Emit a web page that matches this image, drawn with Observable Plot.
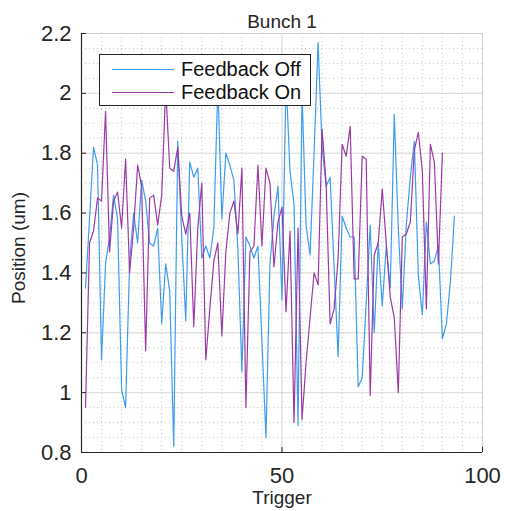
<!DOCTYPE html>
<html><head><meta charset="utf-8">
<script src="https://cdn.jsdelivr.net/npm/d3@7"></script>
<script src="https://cdn.jsdelivr.net/npm/@observablehq/plot@0.6"></script>
<style>
html,body{margin:0;padding:0;background:#fff;}
#chart{position:relative;width:505px;height:511px;font-family:"Liberation Sans",Arial,Helvetica,sans-serif;}
#legend{position:absolute;left:99px;top:54px;width:212px;height:52px;background:#fff;border:1px solid #262626;box-sizing:border-box;}
.sw{position:absolute;left:12px;width:62px;height:0;}
.lab{position:absolute;left:81px;font-size:20px;color:#111;line-height:22px;white-space:nowrap;}
</style></head><body>
<div id="chart"></div>
<script>
const title = "Bunch 1";
const xLabel = "Trigger";
const yLabel = "Position (um)";
const seriesNames = ["Feedback Off", "Feedback On"];
const seriesColors = ["#3d9cf2", "#9c3aa5"];
const xTicks = [0, 50, 100];
const yTicks = [0.8, 1, 1.2, 1.4, 1.6, 1.8, 2, 2.2];
const xMinorStep = 5;
const yMinorStep = 0.05;

const feedbackOff = [
  1.35, 1.58, 1.82, 1.76, 1.11, 1.43, 1.52, 1.66, 1.58, 1.01,
  0.95, 1.44, 1.60, 1.50, 1.71, 1.64, 1.50, 1.49, 1.55, 1.23,
  1.43, 1.34, 0.82, 1.84, 1.52, 1.24, 1.77, 1.72, 1.75, 1.45,
  1.49, 1.45, 1.55, 2.03, 1.58, 1.80, 1.76, 1.71, 1.48, 1.07,
  1.52, 1.49, 1.45, 1.49, 1.17, 0.85, 1.43, 1.59, 1.69, 1.31,
  2.05, 1.74, 1.63, 0.89, 2.00, 1.56, 1.46, 1.80, 2.17, 1.82,
  1.69, 1.72, 1.42, 1.12, 1.59, 1.55, 1.52, 1.52, 1.02, 1.05,
  1.30, 1.56, 1.20, 1.50, 1.29, 1.49, 1.35, 1.93, 1.55, 1.28,
  1.56, 1.72, 1.84, 1.39, 1.26, 1.57, 1.43, 1.44, 1.49, 1.18,
  1.23, 1.37, 1.59
];
const feedbackOn = [
  0.95, 1.50, 1.54, 1.65, 1.64, 1.94, 1.47, 1.64, 1.67, 1.55,
  1.78, 1.40, 1.55, 1.76, 1.69, 1.14, 1.65, 1.66, 1.56, 1.66,
  2.02, 1.75, 1.74, 1.82, 1.59, 1.53, 1.60, 1.22, 1.55, 1.70,
  1.11, 1.28, 1.44, 1.50, 1.19, 1.47, 1.60, 1.64, 1.53, 1.75,
  0.95, 1.47, 1.49, 1.76, 1.49, 1.75, 1.70, 1.42, 1.57, 1.62,
  1.27, 1.54, 0.90, 1.55, 0.91, 1.10, 1.25, 1.40, 1.36, 1.88,
  1.70, 1.23, 1.28, 1.45, 1.83, 1.79, 1.89, 1.38, 1.38, 1.79,
  1.78, 0.99, 1.46, 1.50, 1.68, 1.50, 1.32, 1.25, 1.00, 1.52,
  1.53, 1.57, 1.81, 1.87, 1.74, 1.28, 1.83, 1.77, 1.43, 1.80
];

const rows = [];
[feedbackOff, feedbackOn].forEach((arr, s) =>
  arr.forEach((v, i) => rows.push({series: seriesNames[s], trigger: i + 1, position: v})));

const xDomain = [xTicks[0], xTicks[xTicks.length - 1]];
const yDomain = [yTicks[0], yTicks[yTicks.length - 1]];
const xMinor = d3.range(xDomain[0], xDomain[1] + 1e-9, xMinorStep);
const yMinor = d3.range(0, Math.round((yDomain[1] - yDomain[0]) / yMinorStep) + 1).map(k => +(yDomain[0] + k * yMinorStep).toFixed(2));

const font = '"Liberation Sans", Arial, Helvetica, sans-serif';
const ink = "#262626";

const plot = Plot.plot({
  width: 505, height: 511,
  marginLeft: 81, marginRight: 23, marginTop: 33, marginBottom: 59,
  style: {fontFamily: font, fontSize: "22px", color: ink, background: "transparent", overflow: "visible"},
  x: {domain: xDomain},
  y: {domain: yDomain},
  color: {domain: seriesNames, range: seriesColors},
  marks: [
    Plot.ruleX(xMinor, {stroke: "#c2c2c2", strokeDasharray: "1,3", strokeWidth: 1}),
    Plot.ruleY(yMinor, {stroke: "#c2c2c2", strokeDasharray: "1,3", strokeWidth: 1}),
    Plot.ruleX(xTicks, {stroke: "#dcdcdc", strokeWidth: 1}),
    Plot.ruleY(yTicks, {stroke: "#dcdcdc", strokeWidth: 1}),
    Plot.line(rows, {x: "trigger", y: "position", z: "series", stroke: "series", strokeWidth: 1.2}),
    Plot.ruleX([xDomain[1]], {stroke: "#cfcfcf"}),
    Plot.ruleY([yDomain[1]], {stroke: "#cfcfcf"}),
    Plot.ruleX([xDomain[0]], {stroke: ink, strokeWidth: 1.2}),
    Plot.ruleY([yDomain[0]], {stroke: ink, strokeWidth: 1.2}),
    Plot.axisX({ticks: xTicks, tickSize: -5, tickPadding: 20, label: null, fontSize: 22, tickFormat: d => String(d)}),
    Plot.axisY({ticks: yTicks, tickSize: -5, tickPadding: 15, label: null, fontSize: 22, tickFormat: d => String(+d.toFixed(1))}),
    Plot.text([title], {text: d => d, frameAnchor: "top", lineAnchor: "bottom", dy: -6, fontSize: 19, fill: ink}),
    Plot.text([xLabel], {text: d => d, frameAnchor: "bottom", lineAnchor: "top", dy: 38, fontSize: 19, fill: ink}),
    Plot.text([yLabel], {text: d => d, frameAnchor: "left", lineAnchor: "middle", textAnchor: "middle", rotate: -90, dx: -63, dy: 5, fontSize: 19, fill: ink})
  ]
});

const chart = document.getElementById("chart");
chart.appendChild(plot);

const legend = document.createElement("div");
legend.id = "legend";
seriesNames.forEach((name, i) => {
  const cy = 14 + i * 22.5;
  const sw = document.createElement("div");
  sw.className = "sw";
  sw.style.top = cy + "px";
  sw.style.borderTop = "1.2px solid " + seriesColors[i];
  const lab = document.createElement("div");
  lab.className = "lab";
  lab.style.top = (cy - 11) + "px";
  lab.textContent = name;
  legend.appendChild(sw);
  legend.appendChild(lab);
});
chart.appendChild(legend);
</script>
</body></html>
